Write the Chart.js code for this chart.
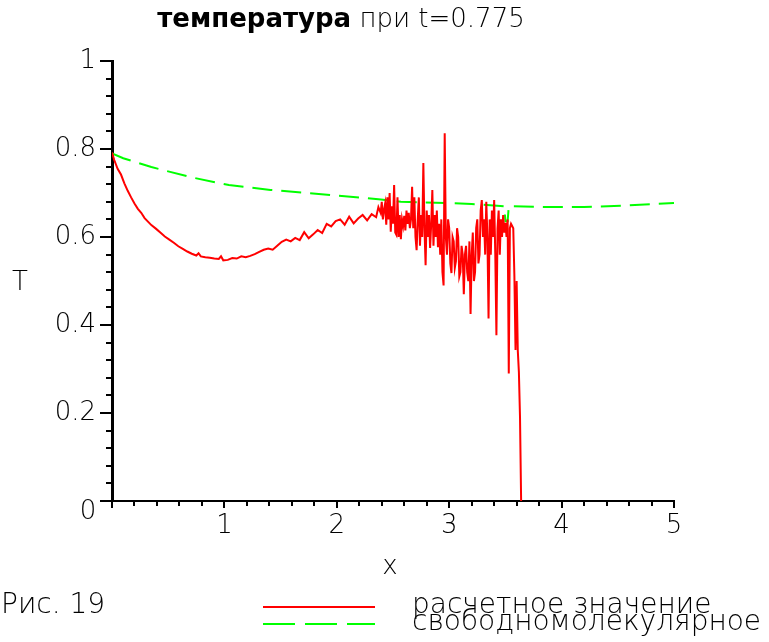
<!DOCTYPE html>
<html>
<head>
<meta charset="utf-8">
<script src="https://cdn.jsdelivr.net/npm/chart.js@4.4.1/dist/chart.umd.min.js"></script>
<style>
  html, body { margin: 0; padding: 0; background: #fff; }
  #c { display: block; }
</style>
</head>
<body>
<canvas id="c" width="769" height="642"></canvas>
<script>
// ---- data ----
const titleBold = "температура";
const titleRest = " при t=0.775";
const xAxisTitle = "x";
const yAxisTitle = "T";
const figureLabel = "Рис. 19";
const seriesNames = ["расчетное значение", "свободномолекулярное"];

const xTickLabels = ["1", "2", "3", "4", "5"];
const yTickLabels = ["0.2", "0.4", "0.6", "0.8", "1"];
const originLabel = "0";

// computed value (red)
const redX = [0.00,0.02,0.05,0.08,0.11,0.14,0.17,0.20,0.23,0.26,0.29,0.32,0.35,0.39,0.43,0.47,0.51,0.55,0.59,0.63,
  0.67,0.71,0.75,0.77,0.79,0.83,0.87,0.91,0.95,0.97,0.99,1.03,1.07,1.11,1.15,1.19,1.23,1.27,1.31,1.35,
  1.39,1.43,1.47,1.51,1.55,1.59,1.63,1.67,1.71,1.75,1.79,1.83,1.87,1.91,1.95,1.99,2.03,2.07,2.11,2.15,
  2.19,2.23,2.27,2.31,2.35,2.37,2.39,2.40,2.41,2.42,2.43,2.44,2.45,2.46,2.47,2.48,2.49,2.50,2.51,2.52,
  2.53,2.54,2.55,2.56,2.57,2.58,2.59,2.60,2.61,2.62,2.63,2.64,2.65,2.66,2.67,2.68,2.69,2.70,2.71,2.72,
  2.73,2.74,2.75,2.76,2.77,2.78,2.79,2.80,2.81,2.82,2.83,2.84,2.85,2.86,2.87,2.88,2.89,2.90,2.91,2.92,
  2.93,2.94,2.95,2.96,2.97,2.98,2.99,3.00,3.01,3.02,3.03,3.04,3.05,3.06,3.07,3.08,3.09,3.10,3.11,3.12,
  3.13,3.14,3.15,3.16,3.17,3.18,3.19,3.20,3.21,3.22,3.23,3.24,3.25,3.26,3.27,3.28,3.29,3.30,3.31,3.32,
  3.33,3.34,3.35,3.36,3.37,3.38,3.39,3.40,3.41,3.42,3.43,3.44,3.45,3.46,3.47,3.48,3.49,3.50,3.51,3.52,
  3.53,3.54,3.55,3.56,3.57,3.58,3.59,3.60,3.61,3.62,3.63,3.64];
const redT = [0.792,0.775,0.755,0.742,0.722,0.705,0.690,0.676,0.664,0.655,0.643,0.635,0.627,0.619,0.610,0.601,0.594,0.587,0.579,0.573,
  0.567,0.562,0.558,0.563,0.556,0.554,0.553,0.551,0.550,0.556,0.547,0.548,0.552,0.551,0.556,0.554,0.557,0.561,0.566,0.571,
  0.574,0.571,0.580,0.589,0.594,0.590,0.598,0.593,0.611,0.597,0.606,0.616,0.609,0.630,0.624,0.636,0.640,0.628,0.646,0.631,
  0.642,0.650,0.638,0.652,0.645,0.668,0.655,0.680,0.640,0.662,0.676,0.628,0.690,0.640,0.700,0.612,0.670,0.630,0.718,0.610,
  0.605,0.690,0.600,0.650,0.595,0.640,0.625,0.648,0.615,0.660,0.630,0.655,0.620,0.640,0.714,0.620,0.690,0.600,0.570,0.640,
  0.690,0.580,0.650,0.600,0.768,0.620,0.536,0.660,0.600,0.650,0.575,0.630,0.707,0.580,0.650,0.600,0.660,0.577,0.630,0.560,
  0.640,0.520,0.490,0.836,0.600,0.560,0.640,0.620,0.540,0.518,0.600,0.590,0.530,0.545,0.620,0.600,0.510,0.520,0.580,0.560,
  0.470,0.560,0.580,0.520,0.500,0.590,0.425,0.560,0.610,0.500,0.520,0.620,0.640,0.540,0.560,0.660,0.684,0.600,0.640,0.560,
  0.680,0.600,0.415,0.640,0.560,0.660,0.600,0.684,0.560,0.377,0.620,0.660,0.560,0.640,0.600,0.650,0.610,0.632,0.600,0.640,
  0.290,0.620,0.630,0.625,0.620,0.510,0.343,0.500,0.343,0.293,0.190,0.000];

// free-molecular (green)
const greenX = [0.00,0.10,0.35,0.70,1.04,1.41,1.95,2.37,2.57,3.00,3.20,3.49,3.50,3.52,3.53,3.90,4.20,4.60,5.00];
const greenT = [0.790,0.779,0.759,0.736,0.718,0.707,0.695,0.686,0.680,0.677,0.675,0.670,0.636,0.636,0.670,0.668,0.668,0.672,0.677];

// ---- chart ----
const FONT = "'DejaVu Sans', 'Liberation Sans', sans-serif";
const RED = '#ff0000';
const GREEN = '#00ff00';

function pairs(xs, ys) { return xs.map((v, i) => ({ x: v, y: ys[i] })); }
function isMultiple(v, step) { const r = v / step; return Math.abs(r - Math.round(r)) < 1e-6; }

const decor = {
  id: 'decor',
  afterDraw(chart) {
    const ctx = chart.ctx;
    const xs = chart.scales.x, ys = chart.scales.y;
    const ca = chart.chartArea;
    ctx.save();
    ctx.setLineDash([]);
    ctx.globalAlpha = 1;
    ctx.strokeStyle = '#000000';
    ctx.lineWidth = 2;
    // y tick marks (left of axis)
    for (const t of ys.getTicks()) {
      const p = Math.round(ys.getPixelForValue(t.value));
      const len = isMultiple(t.value, 0.2) ? 12 : 6;
      ctx.beginPath(); ctx.moveTo(ca.left - len, p); ctx.lineTo(ca.left, p); ctx.stroke();
    }
    // x tick marks (below axis)
    for (const t of xs.getTicks()) {
      const p = Math.round(xs.getPixelForValue(t.value));
      const len = isMultiple(t.value, 1) ? 7 : 5;
      ctx.beginPath(); ctx.moveTo(p, ca.bottom); ctx.lineTo(p, ca.bottom + len); ctx.stroke();
    }

    ctx.fillStyle = '#000';
    ctx.textBaseline = 'middle';
    // origin label
    ctx.font = "200 26px " + FONT;
    ctx.textAlign = 'center';
    ctx.fillText(originLabel, ca.left - 24, ca.bottom + 11);
    // axis titles
    ctx.fillText(xAxisTitle, (ca.left + ca.right) / 2 - 3, ca.bottom + 66);
    ctx.fillText(yAxisTitle, 20, (ca.top + ca.bottom) / 2 + 2);
    // figure label
    ctx.textAlign = 'left';
    ctx.font = "200 28px " + FONT;
    ctx.fillText(figureLabel, 1, ca.bottom + 105);

    // title
    ctx.font = "bold 26px " + FONT;
    const w1 = ctx.measureText(titleBold).width;
    ctx.font = "200 26px " + FONT;
    const w2 = ctx.measureText(titleRest).width;
    const tx = 341 - (w1 + w2) / 2;
    ctx.font = "bold 26px " + FONT;
    ctx.fillText(titleBold, tx, 20);
    ctx.font = "200 26px " + FONT;
    ctx.fillText(titleRest, tx + w1, 20);

    // legend
    const lx0 = ca.left + 151, lx1 = ca.left + 263;
    const ly1 = ca.bottom + 106, ly2 = ca.bottom + 123;
    ctx.lineWidth = 2;
    ctx.strokeStyle = RED;
    ctx.beginPath(); ctx.moveTo(lx0, ly1); ctx.lineTo(lx1, ly1); ctx.stroke();
    ctx.strokeStyle = GREEN;
    ctx.setLineDash([32, 10]);
    ctx.beginPath(); ctx.moveTo(lx0, ly2); ctx.lineTo(lx1, ly2); ctx.stroke();
    ctx.setLineDash([]);
    ctx.font = "200 28px " + FONT;
    ctx.fillStyle = '#000';
    ctx.fillText(seriesNames[0], ca.left + 300, ly1 - 1);
    ctx.fillText(seriesNames[1], ca.left + 300, ly2 - 1);
    ctx.restore();
  }
};

new Chart(document.getElementById('c'), {
  type: 'scatter',
  data: {
    datasets: [
      { label: seriesNames[1], data: pairs(greenX, greenT), showLine: true, borderColor: GREEN, borderWidth: 2,
        borderDash: [20, 9], pointRadius: 0, tension: 0, order: 2 },
      { label: seriesNames[0], data: pairs(redX, redT), showLine: true, borderColor: RED, borderWidth: 2,
        pointRadius: 0, tension: 0, order: 1 }
    ]
  },
  options: {
    responsive: false,
    animation: false,
    layout: { padding: { left: 0, right: 95, top: 61, bottom: 101 } },
    plugins: { legend: { display: false }, title: { display: false }, tooltip: { enabled: false } },
    scales: {
      x: {
        type: 'linear', min: 0, max: 5,
        afterFit(s) { s.height = 40; },
        grid: { display: false, drawTicks: false },
        border: { display: true, color: '#000', width: 2 },
        ticks: {
          stepSize: 0.2, autoSkip: false, maxRotation: 0, padding: 10, color: '#000',
          font: { family: FONT, size: 26, weight: 200 },
          callback: (v) => { const i = xTickLabels.indexOf(String(Math.round(v))); return (isMultiple(v, 1) && i >= 0) ? xTickLabels[i] : ''; }
        }
      },
      y: {
        type: 'linear', min: 0, max: 1,
        afterFit(s) { s.width = 112; },
        grid: { display: false, drawTicks: false },
        border: { display: true, color: '#000', width: 3 },
        ticks: {
          stepSize: 0.04, autoSkip: false, padding: 16, color: '#000',
          font: { family: FONT, size: 26, weight: 200 },
          callback: (v) => { if (!isMultiple(v, 0.2)) return ''; const s = String(Math.round(v * 10) / 10); return yTickLabels.includes(s) ? s : ''; }
        }
      }
    }
  },
  plugins: [decor]
});
</script>
</body>
</html>
